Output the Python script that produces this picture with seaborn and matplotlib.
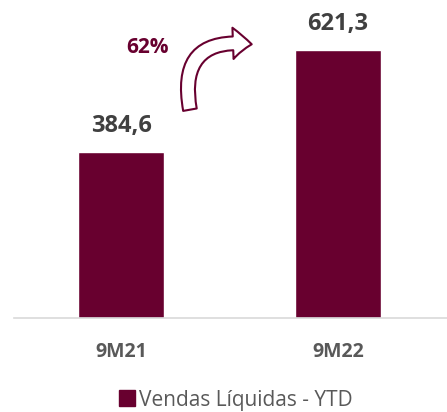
import numpy as np
import pandas as pd
import matplotlib
matplotlib.use("Agg")
import matplotlib.pyplot as plt
import seaborn as sns
from matplotlib.lines import Line2D

periodos = ["9M21", "9M22"]
vendas = [384.6, 621.3]
rotulos = ["384,6", "621,3"]
variacao = "62%"
legenda = "Vendas Líquidas - YTD"

vinho = "#68002f"
cinza = "#595959"
cinza_escuro = "#404040"

sns.set_theme(style="white")
plt.rcParams['font.family'] = ['Open Sans', 'DejaVu Sans']

df = pd.DataFrame({"Periodo": periodos, "Vendas": vendas})

fig = plt.figure(figsize=(4.47, 4.12), dpi=100)
ax = fig.add_axes([14/447, (412-318)/412, 433/447, (318-20)/412])

sns.barplot(data=df, x="Periodo", y="Vendas", color=vinho, width=0.4,
            saturation=1, ax=ax)

ax.set_xlim(-0.493, 1.502)
ax.set_ylim(0, 690)
ax.set_xlabel("")
ax.set_ylabel("")
ax.set_yticks([])
ax.tick_params(axis="x", length=0, pad=17, labelsize=14, labelcolor=cinza)
for t in ax.get_xticklabels():
    t.set_fontweight("bold")

for s in ["top", "right", "left"]:
    ax.spines[s].set_visible(False)
ax.spines["bottom"].set_color("#d9d9d9")
ax.spines["bottom"].set_linewidth(1.2)

# rotulos de valor
for i, (v, r) in enumerate(zip(vendas, rotulos)):
    ax.annotate(r, (i, v), xytext=(0, 14), textcoords="offset points",
                ha="center", va="baseline", fontsize=17, fontweight="bold",
                color=cinza_escuro)

# seta de crescimento
ax.annotate("", xy=(0.615, 633), xytext=(0.32, 476),
            arrowprops=dict(arrowstyle="simple,head_length=0.75,head_width=1.25,tail_width=0.55",
                            connectionstyle="arc3,rad=-0.7", mutation_scale=18,
                            facecolor="white", edgecolor=vinho, linewidth=1.5))
ax.text(0.12, 626, variacao, ha="center", va="center", fontsize=15,
        fontweight="bold", color=vinho)

handle = Line2D([], [], marker="s", linestyle="none", markersize=12,
                markerfacecolor=vinho, markeredgecolor=vinho)
fig.legend([handle], [legenda], loc="lower center", bbox_to_anchor=(0.525, -0.042),
           frameon=False, fontsize=15, labelcolor=cinza, handletextpad=0.1,
           handlelength=1.0)

fig.savefig("out.png", dpi=100)
